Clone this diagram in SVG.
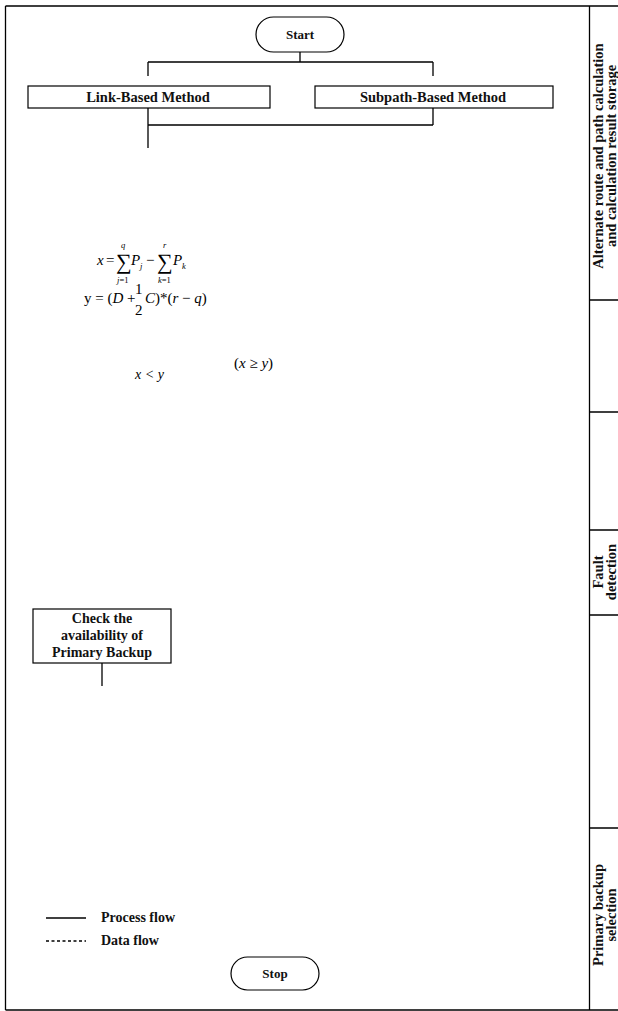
<svg xmlns="http://www.w3.org/2000/svg" width="618" height="1011" viewBox="0 0 618 1011">
<style>
.ln{stroke:#000;stroke-width:1.3;fill:none}
.box{stroke:#000;stroke-width:1.2;fill:#fff}
.t{font-family:"Liberation Serif",serif;font-weight:bold;font-size:13px;fill:#111}
.lane{font-family:"Liberation Serif",serif;font-weight:bold;font-size:14.5px;fill:#111}
.m{font-family:"Liberation Serif",serif;font-size:15px;fill:#000}
.mi{font-style:italic}
.s{font-size:8.5px}
.sig{font-size:22px}
</style>
<rect width="618" height="1011" fill="#fff"/>
<g id="frame">
<path class="ln" d="M5.5 6H618M5.5 6V1010M5.5 1010H618M589.5 6V1010"/>
<path class="ln" d="M589.5 300H618M589.5 412H618M589.5 530H618M589.5 615H618M589.5 828H618"/>
</g>
<g id="lanes">
<text class="lane" text-anchor="middle" transform="translate(603,156) rotate(-90)">Alternate route and path calculation</text>
<text class="lane" text-anchor="middle" transform="translate(616,156) rotate(-90)">and calculation result storage</text>
<text class="lane" text-anchor="middle" transform="translate(603,572) rotate(-90)">Fault</text>
<text class="lane" text-anchor="middle" transform="translate(616,572) rotate(-90)">detection</text>
<text class="lane" text-anchor="middle" transform="translate(603,915) rotate(-90)">Primary backup</text>
<text class="lane" text-anchor="middle" transform="translate(616,915) rotate(-90)">selection</text>
</g>
<g id="connectors">
<path class="ln" d="M300 52V62M148 62H433M148 62V76M433 62V76"/>
<path class="ln" d="M148 108V125M433 108V125M148 125H433M148 125V148"/>
<path class="ln" d="M102 663V686"/>
</g>
<g id="start">
<rect class="box" x="256" y="17" width="88" height="35" rx="17.5"/>
<text class="t" x="300" y="39" text-anchor="middle">Start</text>
</g>
<g id="link">
<rect class="box" x="28" y="86" width="242" height="22"/>
<text class="t" x="148" y="102" text-anchor="middle" style="font-size:14.5px">Link-Based Method</text>
</g>
<g id="subpath">
<rect class="box" x="315" y="86" width="238" height="22"/>
<text class="t" x="433" y="102" text-anchor="middle" style="font-size:14.5px">Subpath-Based Method</text>
</g>
<g id="formula1" class="m">
<text x="97" y="265" class="mi">x</text>
<text x="106" y="265">=</text>
<text x="116" y="269" class="sig">∑</text>
<text x="121" y="248" class="s mi">q</text>
<text x="117" y="283" class="s"><tspan class="mi">j</tspan>=1</text>
<text x="131" y="265" class="mi">P</text>
<text x="140" y="269" class="s mi">j</text>
<text x="146" y="265">−</text>
<text x="157" y="269" class="sig">∑</text>
<text x="163" y="248" class="s mi">r</text>
<text x="158" y="283" class="s"><tspan class="mi">k</tspan>=1</text>
<text x="173" y="265" class="mi">P</text>
<text x="182" y="269" class="s mi">k</text>
</g>
<g id="formula2" class="m">
<text x="84" y="303">y = (<tspan class="mi">D</tspan> +</text>
<text x="135" y="294">1</text>
<text x="135" y="315">2</text>
<text x="145" y="303"><tspan class="mi">C</tspan>)*(<tspan class="mi">r</tspan> − <tspan class="mi">q</tspan>)</text>
</g>
<g id="cond1" class="m">
<text x="135" y="379" class="mi" style="font-size:14px">x &lt; y</text>
</g>
<g id="cond2" class="m">
<text x="234" y="368">(<tspan class="mi">x</tspan> ≥ <tspan class="mi">y</tspan>)</text>
</g>
<g id="check">
<rect class="box" x="33" y="609" width="138" height="54"/>
<text class="t" text-anchor="middle" style="font-size:14px"><tspan x="102" y="623">Check the</tspan><tspan x="102" y="640">availability of</tspan><tspan x="102" y="657">Primary Backup</tspan></text>
</g>
<g id="legend">
<path class="ln" d="M46 918H86"/>
<path class="ln" d="M46 941H86" stroke-dasharray="3 2.5" stroke-width="1"/>
<text class="t" x="101" y="922" style="font-size:14px">Process flow</text>
<text class="t" x="101" y="945" style="font-size:14px">Data flow</text>
</g>
<g id="stop">
<rect class="box" x="231" y="957" width="88" height="33" rx="16.5"/>
<text class="t" x="275" y="978" text-anchor="middle">Stop</text>
</g>
</svg>
